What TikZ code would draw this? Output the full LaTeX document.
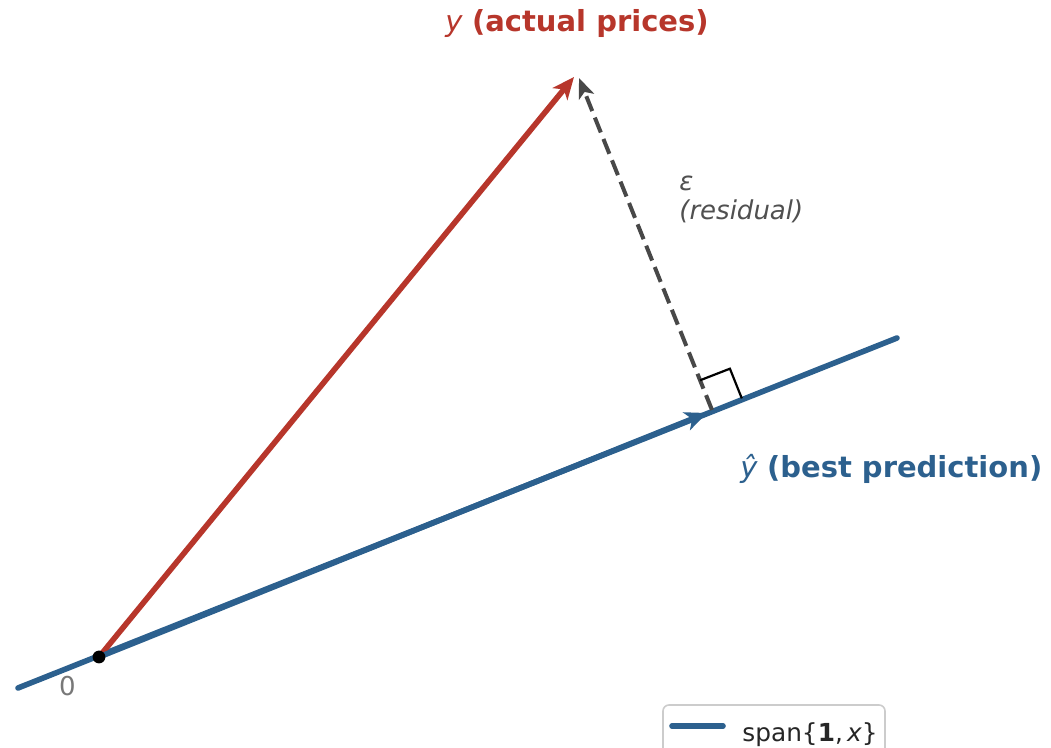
\documentclass[tikz,border=0pt]{standalone}
\usepackage{fontspec}
\setmainfont{DejaVu Sans}
\usepackage{xcolor}
\usetikzlibrary{arrows.meta,calc}

\definecolor{vecred}{RGB}{183,54,43}
\definecolor{vecblue}{RGB}{44,96,142}
\definecolor{residgray}{RGB}{72,72,72}
\definecolor{labelgray}{RGB}{80,80,80}
\definecolor{zerogray}{RGB}{120,120,120}
\definecolor{legendgray}{RGB}{204,204,204}
\definecolor{legendtext}{RGB}{38,38,38}

\begin{document}
\begin{tikzpicture}[
    x=0.5pt, y=-0.5pt,
    vecline/.style={line width=2.8pt, line cap=round},
    redvec/.style={vecline, draw=vecred, -{Stealth[length=11pt,width=9.5pt,inset=3pt]}},
    bluevec/.style={vecline, draw=vecblue, -{Stealth[length=11pt,width=9.5pt,inset=3pt]}},
    spanline/.style={vecline, draw=vecblue},
    resid/.style={line width=2pt, draw=residgray, dash pattern=on 8pt off 3.5pt,
        -{Stealth[length=10pt,width=8pt,inset=2.5pt]}},
    bigfont/.style={font=\fontsize{14.5}{17}\selectfont},
    label/.style={inner sep=0pt}
]
\useasboundingbox (0,0) rectangle (1051,748);

% points of the picture
\coordinate (lineA) at (18,688);
\coordinate (lineB) at (897,338);
\coordinate (origin) at (99,657);
\coordinate (yvec) at (574,77);
\coordinate (yhat) at (707,413);
\coordinate (foot) at (712,410);
\coordinate (resend) at (579,78);

% span line and vectors
\draw[spanline] (lineA) -- (lineB);
\draw[redvec] (origin) -- (yvec);
\draw[bluevec] (origin) -- (yhat);
\draw[resid] (foot) -- (resend);

% right angle mark
\coordinate (ra1) at ($(foot)!16pt!(lineB)$);
\coordinate (ra2) at ($(foot)!16pt!(resend)$);
\draw[line width=1.1pt] (ra2) -- ($(ra1)+(ra2)-(foot)$) -- (ra1);

\fill (origin) circle (3.2pt);

% labels
\node[label, bigfont, text=vecred, anchor=base] (ylabel) at (577,32)
    {\textit{y} \textbf{(actual prices)}};
\node[label, bigfont, text=vecblue, anchor=base west] (yhatlabel) at (740,478)
    {\textit{ŷ} \textbf{(best prediction)}};
\node[label, text=labelgray, anchor=base west, align=left,
      font=\fontsize{13}{14.5}\selectfont\itshape] (residlabel) at (679,220)
    {ε\\(residual)};
\node[label, text=zerogray, anchor=base, font=\fontsize{13}{15}\selectfont]
    (zero) at (67.5,696) {0};

% legend
\draw[legendgray, line width=0.8pt, rounded corners=3pt, fill=white]
    (663,705) rectangle (885,780);
\coordinate (legA) at (672,726);
\coordinate (legB) at (723,726);
\draw[spanline] (legA) -- (legB);
\node[label, text=legendtext, anchor=base west, font=\fontsize{12.4}{15}\selectfont]
    (legtext) at (742,742) {span\{\textbf{1},\,\textit{x}\}};
\end{tikzpicture}
\end{document}
